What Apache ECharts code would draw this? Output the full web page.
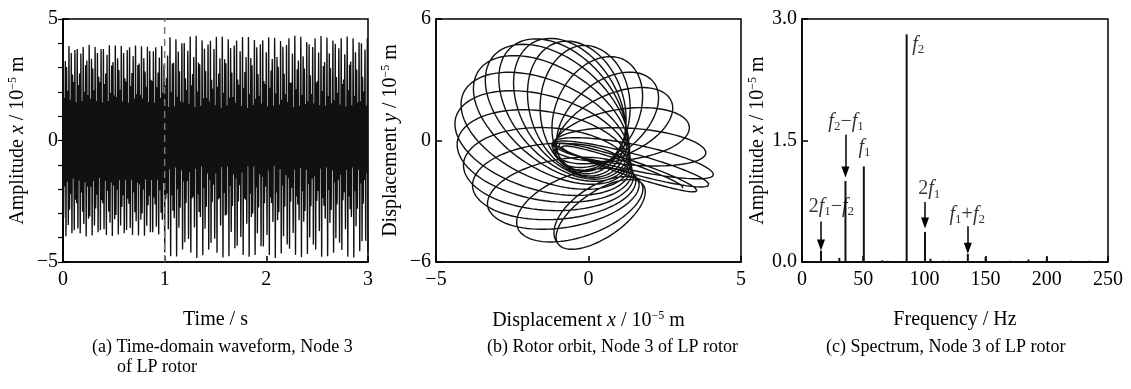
<!DOCTYPE html>
<html>
<head>
<meta charset="utf-8">
<script src="https://cdn.jsdelivr.net/npm/echarts@6/dist/echarts.min.js"></script>
<style>
  html, body { margin: 0; background: #fff; }
  #chart { width: 1131px; height: 389px; }
</style>
</head>
<body>
<div id="chart"></div>
<script>
// ---- values ----

// (c) spectrum lines: frequency (Hz), amplitude (10^-5 m)
const specFreq = [15.5, 30.5, 35.5, 50.5, 65.5, 70, 85.5, 91, 95, 100.5, 105, 115.5, 120, 135.5, 150, 170, 185, 200, 220, 235];
const specAmp  = [0.14, 0.05, 1.0, 1.18, 0.02, 0.015, 2.81, 0.01, 0.01, 0.37, 0.04, 0.015, 0.015, 0.1, 0.06, 0.015, 0.03, 0.06, 0.015, 0.015];

// main components used to build the time waveform (a): 2f1-f2, f2-f1, f1, f2, 2f1, f1+f2
const waveFreq  = [15.5, 35, 50.5, 85.5, 101, 136];
const waveAmp   = [0.14, 1.0, 1.18, 2.81, 0.37, 0.1];
const wavePhase = [0, 90, 0, 0, 180, 180];   // deg, estimated
const waveStart = [1, 1, 0, 0, 1, 1];        // s, combination terms appear after t = 1 s
const markTime = 1;                          // dashed line

// (b) orbit loops: outer tip, inner end and half width of each loop (10^-5 m)
const loopTipX  = [3.1, 3.55, 3.95, 4.1, 3.85, 3.3, 2.7, 2.1, 1.15, -0.1, -1.0, -1.8, -2.5, -3.1, -3.6, -4.1, -4.35, -4.3, -4.1, -3.8, -3.3, -2.3, -1.0];
const loopTipY  = [-2.35, -2.5, -2.2, -1.7, -0.6, 0.75, 2.0, 2.95, 4.0, 4.7, 4.85, 4.85, 4.65, 4.2, 3.45, 2.35, 1.15, -0.05, -1.2, -2.3, -3.3, -4.4, -5.1];
const loopBaseX = [-0.8, -0.95, -1.05, -1.15, -1.2, -1.2, -1.1, -0.9, -0.55, -0.1, 0.3, 0.65, 0.9, 1.1, 1.2, 1.3, 1.35, 1.4, 1.45, 1.5, 1.6, 1.7, 1.8];
const loopBaseY = [-0.35, -0.25, -0.15, -0.1, -0.15, -0.35, -0.7, -1.05, -1.4, -1.6, -1.65, -1.6, -1.5, -1.45, -1.4, -1.4, -1.45, -1.55, -1.7, -1.85, -2.0, -2.1, -2.2];
const loopWidth = [0.2, 0.22, 0.28, 0.35, 0.5, 0.75, 0.95, 1.1, 1.25, 1.4, 1.5, 1.55, 1.6, 1.6, 1.55, 1.5, 1.45, 1.35, 1.25, 1.15, 1.0, 0.9, 0.75];

// (c) annotations
const annoText = [
  '{i|f}{s|2}',
  '{i|f}{s|2}{n|\u2212}{i|f}{s|1}',
  '{i|f}{s|1}',
  '{n|2}{i|f}{s|1}{n|\u2212}{i|f}{s|2}',
  '{n|2}{i|f}{s|1}',
  '{i|f}{s|1}{n|+}{i|f}{s|2}'
];
const annoX = [95, 36, 51, 24, 104, 135];
const annoY = [2.68, 1.73, 1.41, 0.68, 0.9, 0.58];
const arrowX    = [35.5, 15.5, 100.5, 135.5];
const arrowFrom = [1.57, 0.50, 0.74, 0.44];
const arrowTo   = [1.11, 0.21, 0.48, 0.17];

// ---- build series data ----
const wave = [];
const fs = 4000;
for (let n = 0; n <= 3 * fs; n++) {
  const t = n / fs;
  let v = 0;
  for (let k = 0; k < waveFreq.length; k++) {
    if (t < waveStart[k]) continue;
    v += waveAmp[k] * Math.cos(2 * Math.PI * waveFreq[k] * t + wavePhase[k] * Math.PI / 180);
  }
  wave.push([t, v]);
}

// loops are traced in a frame where one y unit looks as long as one x unit
const ky = (243 / 12) / (305 / 10);
const orbit = [];
const steps = 100;
const lerp = (a, b, s) => a + (b - a) * s;
for (let k = 0; k < loopTipX.length; k++) {
  const k2 = Math.min(k + 1, loopTipX.length - 1);
  const last = k === loopTipX.length - 1;
  for (let j = 0; j <= (last ? steps : steps - 1); j++) {
    const s = j / steps;
    const tx = lerp(loopTipX[k], loopTipX[k2], s), ty = lerp(loopTipY[k], loopTipY[k2], s) * ky;
    const bx = lerp(loopBaseX[k], loopBaseX[k2], s), by = lerp(loopBaseY[k], loopBaseY[k2], s) * ky;
    const w = lerp(loopWidth[k], loopWidth[k2], s);
    const cx = (tx + bx) / 2, cy = (ty + by) / 2;
    const len = Math.hypot(tx - bx, ty - by);
    const dx = (tx - bx) / len, dy = (ty - by) / len;
    const phi = 2 * Math.PI * s;
    const px = cx + dx * (len / 2) * Math.cos(phi) - dy * w * Math.sin(phi);
    const py = cy + dy * (len / 2) * Math.cos(phi) + dx * w * Math.sin(phi);
    orbit.push([px, py / ky]);
  }
}

const spec = specFreq.map((f, i) => [f, specAmp[i]]);
const anno = annoText.map((t, i) => ({ value: [annoX[i], annoY[i]], label: { formatter: t } }));
const arrows = arrowX.map((x, i) => [{ coord: [x, arrowFrom[i]] }, { coord: [x, arrowTo[i]] }]);

// ---- chart ----
const FONT = '"Liberation Serif", "Times New Roman", serif';
const minus = v => String(v).replace('-', '\u2212');
const rich = {
  i: { fontFamily: FONT, fontStyle: 'italic', fontSize: 20, color: '#000' },
  n: { fontFamily: FONT, fontSize: 20, color: '#000' },
  s: { fontFamily: FONT, fontSize: 13, color: '#000', padding: [10, 0, 0, 0] },
  sup: { fontFamily: FONT, fontSize: 12, color: '#000', padding: [0, 0, 10, 0] }
};

function xAxis(grid, min, max, interval, name, fmt) {
  return {
    type: 'value', gridIndex: grid, min, max, interval,
    name, nameLocation: 'middle', nameGap: 48,
    nameTextStyle: { fontFamily: FONT, fontSize: 20, color: '#000', rich },
    axisLine: { show: true, onZero: false, lineStyle: { color: '#000', width: 1.5 } },
    axisTick: { show: true, inside: true, length: 6, lineStyle: { color: '#000', width: 1.5 } },
    axisLabel: { fontFamily: FONT, fontSize: 20, color: '#000', margin: 8, formatter: fmt || minus },
    splitLine: { show: false }
  };
}
function yAxis(grid, min, max, interval, name, gap, fmt) {
  return {
    type: 'value', gridIndex: grid, min, max, interval,
    name, nameLocation: 'middle', nameGap: gap, nameRotate: 90,
    nameTextStyle: { fontFamily: FONT, fontSize: 20, color: '#000', rich },
    axisLine: { show: true, onZero: false, lineStyle: { color: '#000', width: 1.5 } },
    axisTick: { show: true, inside: true, length: 6, lineStyle: { color: '#000', width: 1.5 } },
    axisLabel: { fontFamily: FONT, fontSize: 20, color: '#000', margin: 5, formatter: fmt || minus },
    splitLine: { show: false }
  };
}
const gridBase = { show: true, borderColor: '#000', borderWidth: 1.5, top: 19, bottom: 127, containLabel: false };

const chart = echarts.init(document.getElementById('chart'));
chart.setOption({
  animation: false,
  backgroundColor: '#fff',
  grid: [
    Object.assign({ left: 63, right: 763 }, gridBase),
    Object.assign({ left: 436, right: 390 }, gridBase),
    Object.assign({ left: 802, right: 23 }, gridBase)
  ],
  xAxis: [
    xAxis(0, 0, 3, 1, 'Time / s'),
    xAxis(1, -5, 5, 5, 'Displacement {i|x} / 10{sup|\u22125} m'),
    xAxis(2, 0, 250, 50, 'Frequency / Hz')
  ],
  yAxis: [
    yAxis(0, -5, 5, 5, 'Amplitude {i|x} / 10{sup|\u22125} m', 34),
    yAxis(1, -6, 6, 6, 'Displacement {i|y} / 10{sup|\u22125} m', 34),
    yAxis(2, 0, 3, 1.5, 'Amplitude {i|x} / 10{sup|\u22125} m', 31, v => v.toFixed(1)),
    {
      type: 'value', gridIndex: 0, position: 'right', min: -5, max: 5, interval: 1,
      axisLine: { show: true, lineStyle: { color: '#000', width: 1.5 } },
      axisTick: { show: true, inside: true, length: 5, lineStyle: { color: '#000', width: 1.2 } },
      axisLabel: { show: false }, splitLine: { show: false }
    }
  ],
  series: [
    {
      type: 'line', xAxisIndex: 0, yAxisIndex: 0, data: wave,
      showSymbol: false, symbol: 'none', sampling: null,
      lineStyle: { color: '#111', width: 1.3 }
    },
    {
      // dashed marker at t = 1 s, drawn above the dense waveform
      type: 'line', xAxisIndex: 0, yAxisIndex: 0, z: 5,
      data: [[markTime, -5], [markTime, 5]],
      showSymbol: false, symbol: 'none', silent: true,
      lineStyle: { color: '#777', type: [7, 5], width: 1.5 }
    },
    {
      type: 'line', xAxisIndex: 1, yAxisIndex: 1, data: orbit,
      showSymbol: false, symbol: 'none', smooth: false,
      lineStyle: { color: '#111', width: 1.4 }
    },
    {
      type: 'bar', xAxisIndex: 2, yAxisIndex: 2, data: spec,
      barWidth: 2, itemStyle: { color: '#111' },
      markLine: {
        silent: true, symbol: ['none', 'triangle'], symbolSize: [8, 11],
        label: { show: false },
        lineStyle: { color: '#000', type: 'solid', width: 1.5 },
        data: arrows
      }
    },
    {
      type: 'scatter', xAxisIndex: 2, yAxisIndex: 2, data: anno,
      symbolSize: 0, silent: true,
      label: { show: true, position: 'inside', rich }
    }
  ],
  graphic: [
    { type: 'text', left: 92, top: 338, style: { text: '(a) Time-domain waveform, Node 3', font: '18px ' + FONT, fill: '#000' } },
    { type: 'text', left: 117, top: 358, style: { text: 'of LP rotor', font: '18px ' + FONT, fill: '#000' } },
    { type: 'text', left: 487, top: 338, style: { text: '(b) Rotor orbit, Node 3 of LP rotor', font: '18px ' + FONT, fill: '#000' } },
    { type: 'text', left: 826, top: 338, style: { text: '(c) Spectrum, Node 3 of LP rotor', font: '18px ' + FONT, fill: '#000' } }
  ]
});
</script>
</body>
</html>
